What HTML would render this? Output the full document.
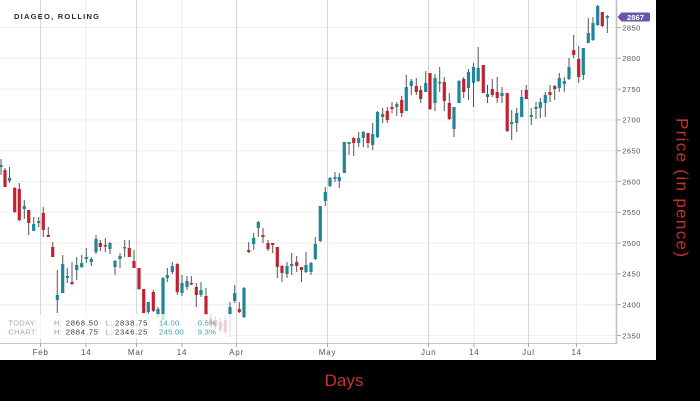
<!DOCTYPE html>
<html><head><meta charset="utf-8"><style>
html,body{margin:0;padding:0;background:#000;}
svg{display:block;}
</style></head><body>
<svg width="700" height="401" viewBox="0 0 700 401" xmlns="http://www.w3.org/2000/svg" font-family="'Liberation Sans', sans-serif">
<rect x="0" y="0" width="700" height="401" fill="#000"/>
<rect x="0" y="0" width="656" height="360" fill="#fff"/>
<!-- horizontal grid -->
<g stroke="#eeeeee" stroke-width="1">
<path d="M0 27.5H617M0 58.3H617M0 89.1H617M0 119.9H617M0 150.7H617M0 181.5H617M0 212.3H617M0 243.1H617M0 273.9H617M0 304.7H617M0 335.5H617"/>
</g>
<!-- vertical grid -->
<g stroke="#d6d6d6" stroke-width="1"><path d="M40.5 0V343M136.5 0V343M236.5 0V343M327.5 0V343M428.5 0V343M528.5 0V343"/></g>
<g stroke="#ededed" stroke-width="1"><path d="M86 0V343M182 0V343M474 0V343M576.5 0V343"/></g>
<!-- wicks -->
<path stroke="#555" stroke-width="1" fill="none" d="M1 159V175M5 168V187M9.5 167V183M14.7 187V213M19.3 183V221M24.3 200V219M28.7 210V235M33.7 217V231M38.7 217V227M43.3 207V237M48.3 227V237M52.7 242V257M57.3 270V313M62.7 255V293M67.3 268V283M72 262V285M76.7 257V280M81.7 255V268M86.3 248V263M91.3 257V266M96 235V254M100.3 240V251M105.3 238V252M110 242V254M115 260V275M120 253V268M124.7 240V257M129.3 240V257M134 250V268M139 268V290M143.7 289V313M148.3 302V314M153.3 290V312M158 307V318M163 277V320M167.3 268V282M172.3 262V274M177.3 263V295M182 275V296M187 276V290M191.3 276V285M196.3 283V307M201 282V297M206 288V315M210.8 314V328M215.6 316V330M220.4 318V332M225.2 316V334M230 302V337M234.7 285V303M239.3 302V313M244 287V318M248.7 242V253M253.7 233V250M258.3 221V237M263 228V243M268 240V251M272.7 243V253M277.3 247V278M282 265V282M287 262V278M291.7 253V275M296.7 256V272M301.5 267V282M306 252V273M311 262V275M315.3 237V260M320.3 206V242M325.3 187V206M330 177V187M335 172V182M339.3 173V188M344.3 142V173M349 142V155M353.7 137V156M358.7 132V147M363.3 131V147M368 133V148M372.7 123V150M377.5 111V138M382.7 108V123M387.3 107V123M392 102V113M396.8 102V116M401.7 96V117M406.3 75V111M411.3 79V95M416.3 78V95M420.7 86V103M425.7 71V92M430 73V110M435 74V111M439.7 67V92M444.3 77V111M449.3 93V120M454 107V137M459 80V103M463.7 77V98M468.5 69V100M473.5 63V107M478.2 47V82M483.3 65V93M487.5 85V103M492.3 79V97M497.2 77V103M502 87V103M507.2 93V132M511.7 110V140M516.7 108V132M521.7 90V117M526.3 85V99M531.3 108V125M536 102V119M540.3 98V118M545.3 92V117M550 85V102M554.7 85V100M559.3 73V92M564.3 77V92M569 58V80M573.7 35V58M578.7 46V83M583.3 48V80M588.3 18V43M593 17V41M597.7 5V26M602.3 12V27M607.3 15V33"/>
<!-- teal bodies -->
<path fill="#1d8797" d="M-0.6 165h3.2v2h-3.2zM7.9 178h3.2v3h-3.2zM22.7 206h3.2v3h-3.2zM32.1 224h3.2v7h-3.2zM37.1 221h3.2v2h-3.2zM55.7 295h3.2v5h-3.2zM61.1 264h3.2v29h-3.2zM65.7 276h3.2v2h-3.2zM75.1 265h3.2v5h-3.2zM80.1 263h3.2v4h-3.2zM84.7 257h3.2v2h-3.2zM89.7 259h3.2v3h-3.2zM94.4 239h3.2v13h-3.2zM108.4 243h3.2v6h-3.2zM113.4 261h3.2v6h-3.2zM118.4 256h3.2v3h-3.2zM123.1 247h3.2v1.5h-3.2zM146.7 302h3.2v10h-3.2zM156.4 309h3.2v7h-3.2zM161.4 278h3.2v42h-3.2zM165.7 275h3.2v3h-3.2zM170.7 266h3.2v6h-3.2zM180.4 283h3.2v10h-3.2zM185.4 281h3.2v6h-3.2zM199.4 290h3.2v5h-3.2zM228.4 307h3.2v8h-3.2zM233.1 293h3.2v8h-3.2zM242.4 288h3.2v29h-3.2zM252.1 238h3.2v6h-3.2zM256.7 222h3.2v6h-3.2zM285.4 266h3.2v8h-3.2zM290.1 264h3.2v2h-3.2zM304.4 265h3.2v7h-3.2zM309.4 263h3.2v9h-3.2zM313.7 244h3.2v15h-3.2zM318.7 206h3.2v35h-3.2zM323.7 192h3.2v9h-3.2zM328.4 178h3.2v8h-3.2zM333.4 177h3.2v2h-3.2zM337.7 177h3.2v4h-3.2zM342.7 142h3.2v31h-3.2zM347.4 142h3.2v2h-3.2zM357.1 138h3.2v5h-3.2zM361.7 132h3.2v6h-3.2zM371.1 134h3.2v11h-3.2zM375.9 112h3.2v25h-3.2zM381.1 114h3.2v3h-3.2zM395.2 104h3.2v3h-3.2zM404.7 87h3.2v24h-3.2zM409.7 81h3.2v5h-3.2zM424.1 83h3.2v9h-3.2zM433.4 78h3.2v25h-3.2zM438.1 82h3.2v1.5h-3.2zM452.4 107h3.2v22h-3.2zM457.4 81h3.2v22h-3.2zM466.9 72h3.2v16h-3.2zM471.9 67h3.2v16h-3.2zM476.6 68h3.2v13h-3.2zM485.9 94h3.2v3h-3.2zM500.4 93h3.2v3h-3.2zM510.1 122h3.2v2h-3.2zM515.1 113h3.2v10h-3.2zM520.1 97h3.2v20h-3.2zM529.7 115h3.2v2h-3.2zM534.4 107h3.2v2h-3.2zM538.7 102h3.2v6h-3.2zM543.7 95h3.2v8h-3.2zM557.7 78h3.2v10h-3.2zM562.7 81h3.2v3h-3.2zM567.4 67h3.2v12h-3.2zM581.7 48h3.2v27h-3.2zM586.7 33h3.2v10h-3.2zM591.4 23h3.2v17h-3.2zM596.1 6h3.2v19h-3.2zM605.7 16h3.2v2h-3.2z"/>
<!-- red bodies -->
<path fill="#c4202f" d="M3.4 170h3.2v17h-3.2zM13.1 188h3.2v24h-3.2zM17.7 189h3.2v31h-3.2zM27.1 210h3.2v13h-3.2zM41.7 213h3.2v17h-3.2zM46.7 235h3.2v2h-3.2zM51.1 247h3.2v10h-3.2zM70.4 282h3.2v2h-3.2zM98.7 243h3.2v4h-3.2zM103.7 245h3.2v1.5h-3.2zM127.7 248h3.2v9h-3.2zM132.4 261h3.2v7h-3.2zM137.4 268h3.2v21h-3.2zM142.1 289h3.2v24h-3.2zM151.7 292h3.2v19h-3.2zM175.7 264h3.2v28h-3.2zM189.7 283h3.2v1.5h-3.2zM194.7 287h3.2v8h-3.2zM204.4 296h3.2v19h-3.2zM209.2 318h3.2v7h-3.2zM214 320h3.2v6h-3.2zM218.8 322h3.2v8h-3.2zM223.6 320h3.2v12h-3.2zM237.7 309h3.2v3h-3.2zM247.1 250h3.2v2h-3.2zM261.4 235h3.2v2h-3.2zM266.4 243h3.2v6h-3.2zM271.1 243h3.2v2h-3.2zM275.7 247h3.2v20h-3.2zM280.4 266h3.2v7h-3.2zM295.1 262h3.2v4h-3.2zM299.9 267h3.2v3h-3.2zM352.1 138h3.2v5h-3.2zM366.4 133h3.2v10h-3.2zM385.7 111h3.2v9h-3.2zM390.4 107h3.2v2h-3.2zM400.1 100h3.2v13h-3.2zM414.7 86h3.2v6h-3.2zM419.1 90h3.2v9h-3.2zM428.4 73h3.2v36h-3.2zM442.7 82h3.2v19h-3.2zM447.7 103h3.2v16h-3.2zM462.1 79h3.2v13h-3.2zM481.7 65h3.2v28h-3.2zM490.7 89h3.2v6h-3.2zM495.6 92h3.2v6h-3.2zM505.6 93h3.2v38h-3.2zM524.7 90h3.2v9h-3.2zM548.4 92h3.2v3h-3.2zM553.1 86h3.2v3h-3.2zM572.1 50h3.2v5h-3.2zM577.1 59h3.2v18h-3.2zM600.7 12h3.2v14h-3.2z"/>
<!-- info overlay -->
<rect x="0" y="314" width="232" height="25" fill="#fff" fill-opacity="0.78"/>
<g font-size="7.6" letter-spacing="0.3">
<text x="8.3" y="325.5" fill="#a8a8a8">TODAY:</text>
<text x="54" y="325.5" fill="#999">H:</text>
<text x="65.7" y="325.5" fill="#333" textLength="32.6" lengthAdjust="spacing">2868.50</text>
<text x="105.7" y="325.5" fill="#999">L:</text>
<text x="115" y="325.5" fill="#333" textLength="32.6" lengthAdjust="spacing">2838.75</text>
<text x="159" y="325.5" fill="#3d9cab">14.00</text>
<text x="197.7" y="325.5" fill="#3d9cab">0.5%</text>
<text x="8.3" y="334.7" fill="#a8a8a8">CHART:</text>
<text x="54" y="334.7" fill="#999">H:</text>
<text x="65.7" y="334.7" fill="#333" textLength="32.6" lengthAdjust="spacing">2884.75</text>
<text x="105.7" y="334.7" fill="#999">L:</text>
<text x="115" y="334.7" fill="#333" textLength="32.6" lengthAdjust="spacing">2346.25</text>
<text x="159" y="334.7" fill="#3d9cab">245.00</text>
<text x="197.7" y="334.7" fill="#3d9cab">9.3%</text>
</g>
<!-- axes -->
<path d="M0 343.5H617" stroke="#c8c8c8" stroke-width="1"/>
<path d="M616.5 0V344" stroke="#c2c2c2" stroke-width="1.6"/>
<path stroke="#aaa" stroke-width="1" d="M40.5 343V347M86 343V347M136.5 343V347M182 343V347M236.5 343V347M327.5 343V347M428.5 343V347M474 343V347M528.5 343V347M576.5 343V347"/>
<path stroke="#aaa" stroke-width="1" d="M617 27.5H621M617 58.3H621M617 89.1H621M617 119.9H621M617 150.7H621M617 181.5H621M617 212.3H621M617 243.1H621M617 273.9H621M617 304.7H621M617 335.5H621"/>
<g font-size="8" fill="#555" text-anchor="middle" letter-spacing="0.8">
<text x="40.7" y="354.8">Feb</text>
<text x="86.3" y="354.8">14</text>
<text x="136" y="354.8">Mar</text>
<text x="182" y="354.8">14</text>
<text x="236.5" y="354.8">Apr</text>
<text x="327.5" y="354.8">May</text>
<text x="428.7" y="354.8">Jun</text>
<text x="474.3" y="354.8">14</text>
<text x="528.5" y="354.8">Jul</text>
<text x="576.7" y="354.8">14</text>
</g>
<g font-size="7.6" fill="#555" letter-spacing="0.4">
<text x="622.3" y="30.3">2850</text>
<text x="622.3" y="61.1">2800</text>
<text x="622.3" y="91.9">2750</text>
<text x="622.3" y="122.7">2700</text>
<text x="622.3" y="153.5">2650</text>
<text x="622.3" y="184.3">2600</text>
<text x="622.3" y="215.1">2550</text>
<text x="622.3" y="245.9">2500</text>
<text x="622.3" y="276.7">2450</text>
<text x="622.3" y="307.5">2400</text>
<text x="622.3" y="338.3">2350</text>
</g>
<!-- price tag -->
<path d="M617.5 17L621.5 12.5H648.5Q650 12.5 650 14V20Q650 21.5 648.5 21.5H621.5Z" fill="#6a57ab"/>
<text x="635.5" y="20" font-size="7.6" font-weight="bold" fill="#fff" text-anchor="middle">2867</text>
<!-- title -->
<text x="14" y="18.8" font-size="7.5" font-weight="bold" fill="#2a2a2a" textLength="85" lengthAdjust="spacing">DIAGEO, ROLLING</text>
<!-- axis titles -->
<text x="344" y="386" font-size="17" fill="#c9302c" text-anchor="middle">Days</text>
<text transform="translate(676.5,187.5) rotate(90)" font-size="17" fill="#c9302c" text-anchor="middle" textLength="139" lengthAdjust="spacing">Price (in pence)</text>
</svg>
</body></html>
